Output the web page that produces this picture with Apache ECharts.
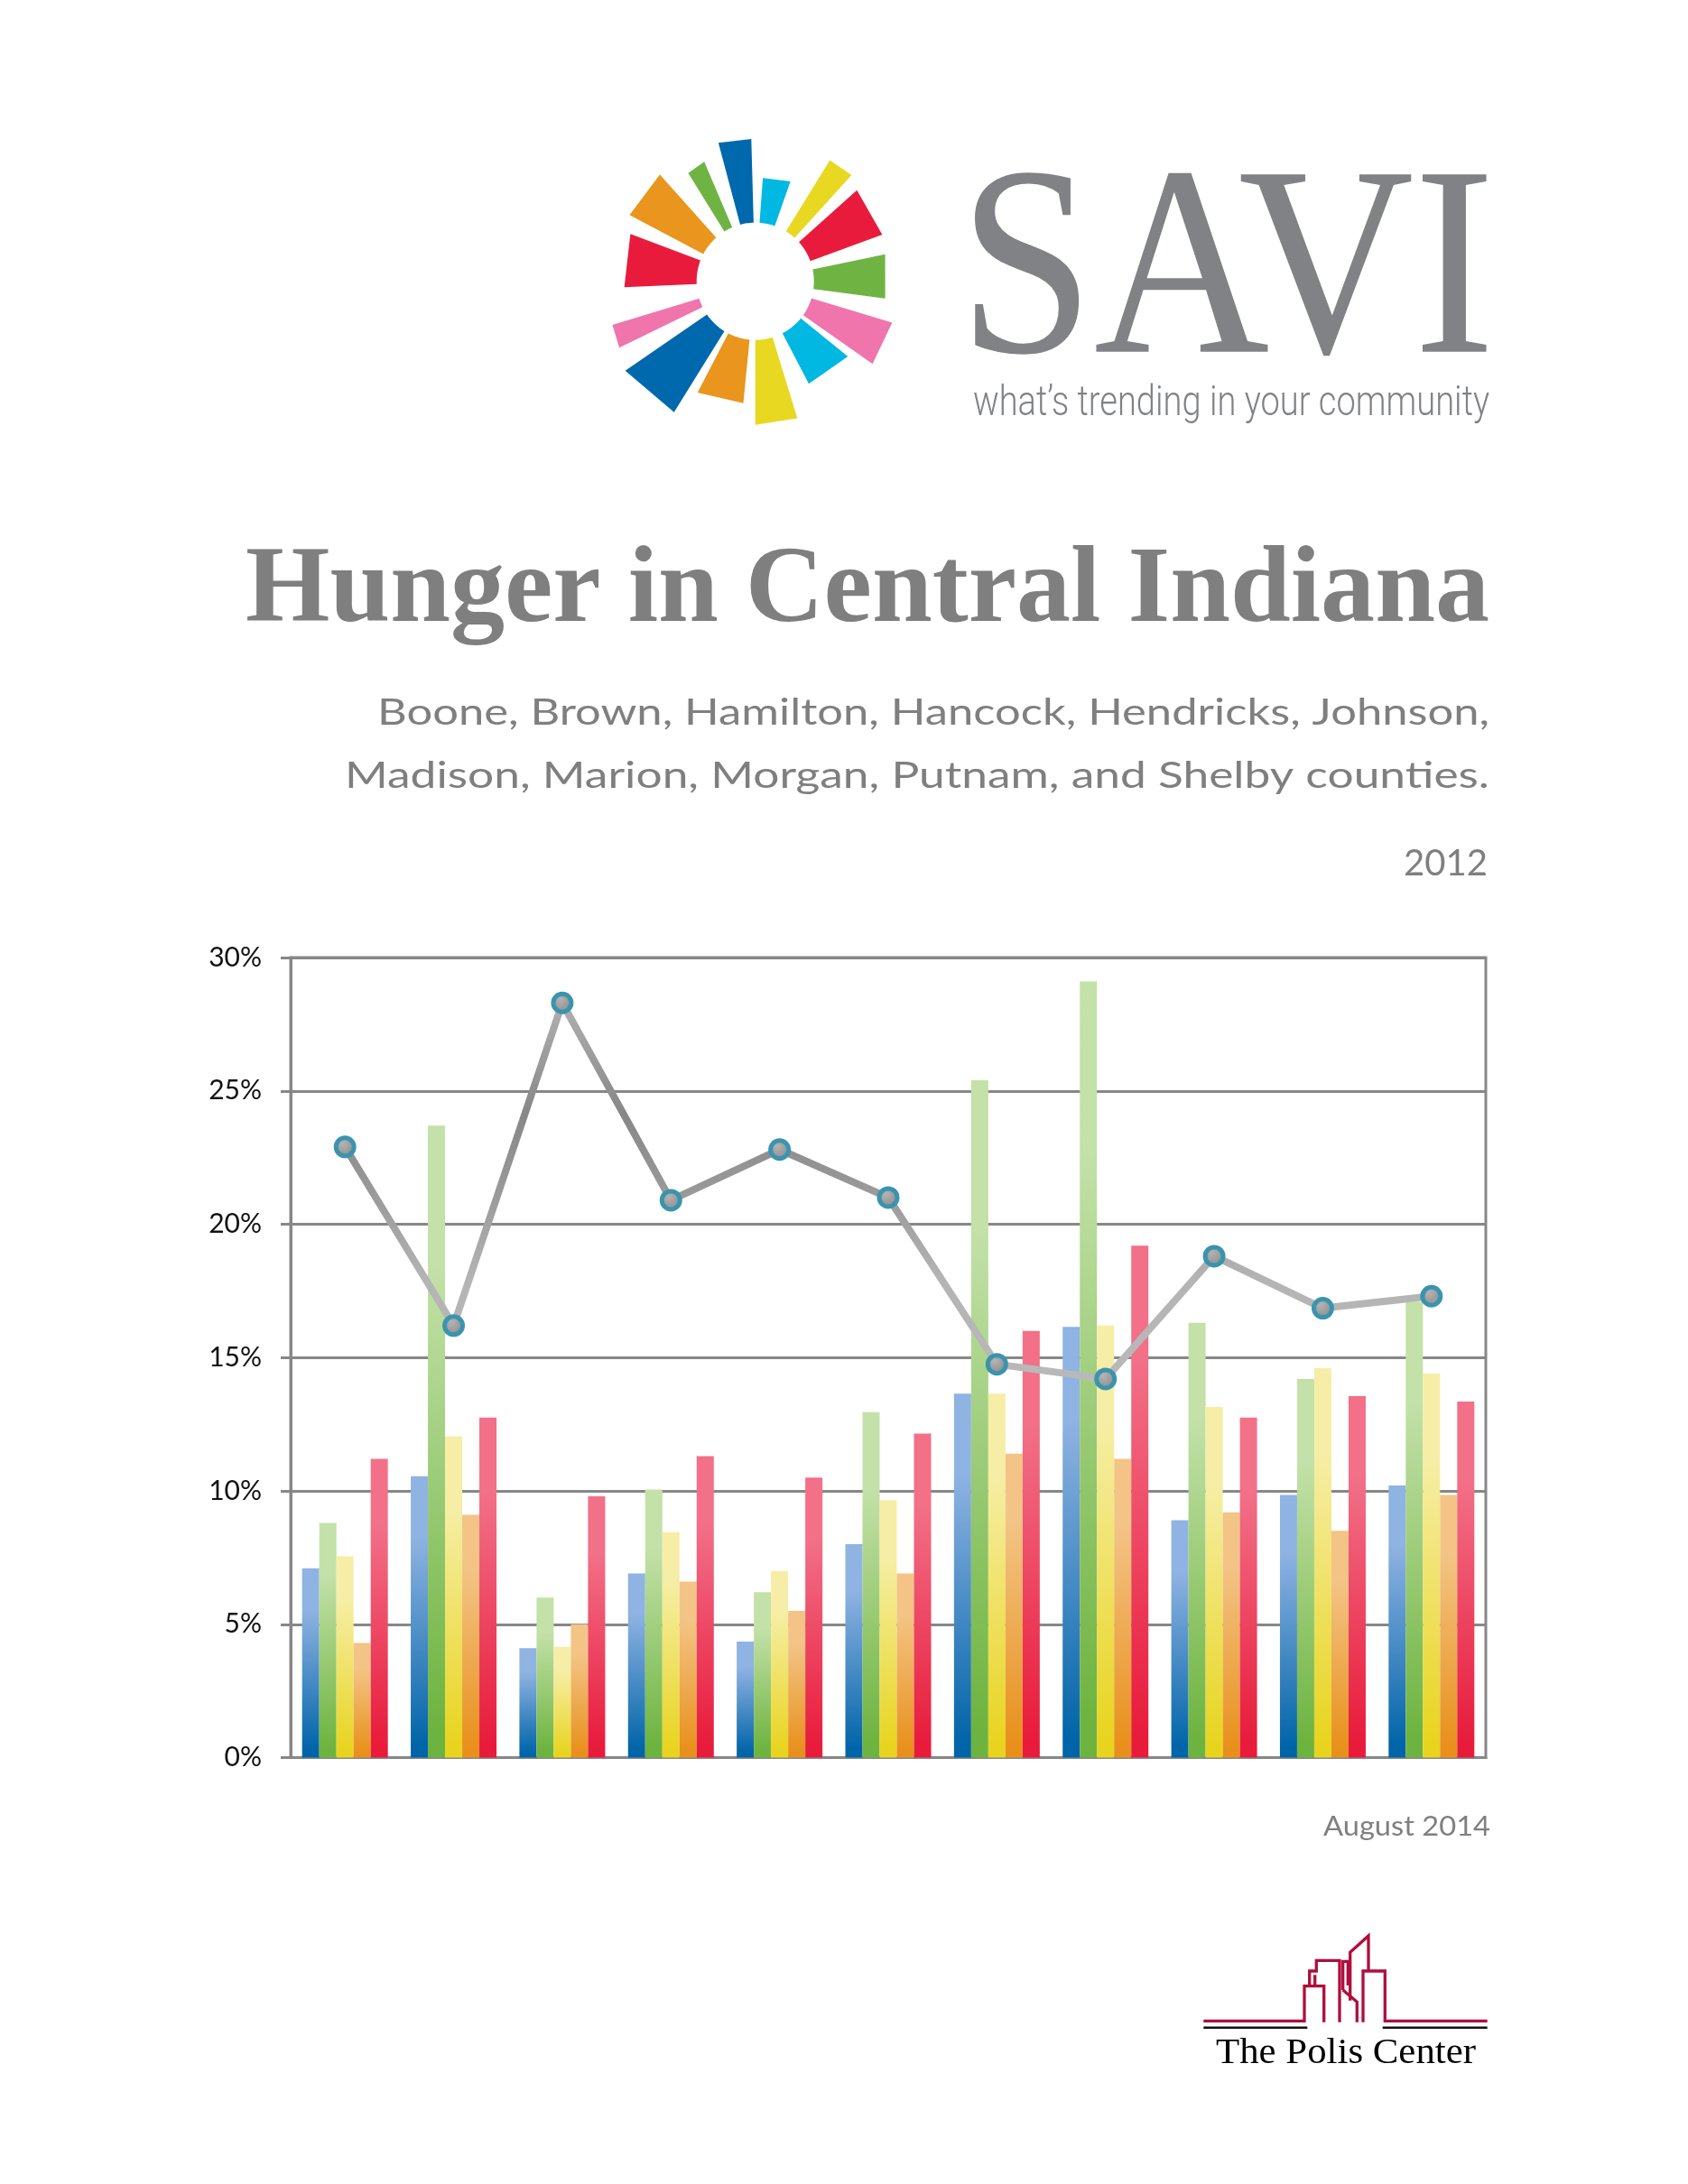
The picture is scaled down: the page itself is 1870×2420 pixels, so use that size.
<!DOCTYPE html>
<html>
<head>
<meta charset="utf-8">
<script src="https://cdn.jsdelivr.net/npm/echarts@6.0.0/dist/echarts.min.js"></script>
<style>
html,body{margin:0;padding:0;background:#fff;}
#chart{width:1870px;height:2420px;}
</style>
</head>
<body>
<div id="chart"></div>
<script>
// ---------- DATA ----------
const counties = ['Boone','Brown','Hamilton','Hancock','Hendricks','Johnson','Madison','Marion','Morgan','Putnam','Shelby'];
const yTicks = [0, 5, 10, 15, 20, 25, 30];
const barBlue   = [7.1, 10.55, 4.1, 6.9, 4.35, 8.0, 13.65, 16.15, 8.9, 9.85, 10.2];
const barGreen  = [8.8, 23.7, 6.0, 10.05, 6.2, 12.95, 25.4, 29.1, 16.3, 14.2, 17.1];
const barYellow = [7.55, 12.05, 4.15, 8.45, 7.0, 9.65, 13.65, 16.2, 13.15, 14.6, 14.4];
const barOrange = [4.3, 9.1, 5.0, 6.6, 5.5, 6.9, 11.4, 11.2, 9.2, 8.5, 9.85];
const barRed    = [11.2, 12.75, 9.8, 11.3, 10.5, 12.15, 16.0, 19.2, 12.75, 13.55, 13.35];
const lineValues = [22.9, 16.2, 28.3, 20.9, 22.8, 21.0, 14.75, 14.2, 18.8, 16.85, 17.3];

const titleText = 'Hunger in Central Indiana';
const subLine1 = 'Boone, Brown, Hamilton, Hancock, Hendricks, Johnson,';
const subLine2 = 'Madison, Marion, Morgan, Putnam, and Shelby counties.';
const yearText = '2012';
const dateText = 'August 2014';

// ---------- STYLE ----------
const grad = (light, dark) => new echarts.graphic.LinearGradient(0, 0, 0, 1, [
  {offset: 0, color: light}, {offset: 0.22, color: light}, {offset: 0.96, color: dark}, {offset: 1, color: dark}
]);
const barStyles = [
  ['#8fb3e2', '#0064a8'],
  ['#c3e1a8', '#6db33f'],
  ['#f6eea6', '#e8d41f'],
  ['#f3c486', '#e8901b'],
  ['#f27088', '#e81b3b']
];
const barSeriesData = [barBlue, barGreen, barYellow, barOrange, barRed];
const barNames = ['Series 1', 'Series 2', 'Series 3', 'Series 4', 'Series 5'];

const mctx = document.createElement('canvas').getContext('2d');
function textEl(text, font, color, xRight, yMid, targetW) {
  mctx.font = font;
  const w = mctx.measureText(text).width;
  const sx = targetW / w;
  return {
    type: 'text', x: xRight, y: yMid, scaleX: sx, originX: 0, originY: 0, silent: true,
    style: {text: text, font: font, fill: color, align: 'right', verticalAlign: 'middle',
            textAlign: 'right', textVerticalAlign: 'middle'}
  };
}

// SAVI ring logo geometry (decoration)
const logoC = [836.7, 311.7], logoInner = 65;
const C = {blue:'#0068ad', cyan:'#00b8e1', yellow:'#e8d822', red:'#e91b3c', green:'#6fb443', pink:'#f075ad', orange:'#e9951e'};
const wedges = [
  [-104.9, -91.6, 158.7, 157.7, C.blue],
  [-85.8, -70.6, 114.7, 117.3, C.cyan],
  [-58.4, -47.8, 157.7, 158.8, C.yellow],
  [-41.9, -20.2, 151.3, 149.9, C.red],
  [-11.8, 7.5, 147, 145.2, C.green],
  [16.8, 35.2, 158.4, 159, C.pink],
  [39.1, 62.4, 132.2, 128, C.cyan],
  [72.9, 90, 158.7, 159, C.yellow],
  [95.6, 117.4, 135.7, 139, C.orange],
  [121.8, 145.5, 170.7, 174.8, C.blue],
  [154, 163, 167.6, 165.5, C.pink],
  [177.4, 200.8, 145.2, 148, C.red],
  [207.8, 228.2, 157.4, 158.6, C.orange],
  [238.2, 246.9, 141, 144, C.green]
];
const graphics = [];
wedges.forEach(wd => {
  const [a0, a1, r0, r1, col] = wd;
  const rad = d => d * Math.PI / 180;
  const pts = [
    [logoC[0] + r0 * Math.cos(rad(a0)), logoC[1] + r0 * Math.sin(rad(a0))],
    [logoC[0] + r1 * Math.cos(rad(a1)), logoC[1] + r1 * Math.sin(rad(a1))]
  ];
  for (let k = 0; k <= 10; k++) {
    const a = a1 + (a0 - a1) * k / 10;
    pts.push([logoC[0] + logoInner * Math.cos(rad(a)), logoC[1] + logoInner * Math.sin(rad(a))]);
  }
  graphics.push({type: 'polygon', silent: true, shape: {points: pts}, style: {fill: col}});
});

// Polis Center logo (decoration)
const polisRed = [
  [[1333.3,2239.3],[1445,2239.3],[1445,2200.7],[1466.7,2200.7],[1466.7,2240.7]],
  [[1450.7,2200.7],[1450.7,2184],[1458.3,2184],[1458.3,2172.3],[1484,2172.3],[1484,2240.7]],
  [[1456.7,2188.3],[1456.7,2200.7]],
  [[1487.7,2205],[1487.7,2173.3],[1493.3,2173.3],[1493.3,2200]],
  [[1487.7,2205],[1503.3,2218.3],[1503.3,2240.7]],
  [[1495.7,2216.7],[1495.7,2163.3],[1516,2145],[1516,2184]],
  [[1510,2240.7],[1510,2184],[1534.3,2184],[1534.3,2239.3],[1647.7,2239.3]]
];
polisRed.forEach(p => graphics.push({type:'polyline', silent:true, shape:{points:p},
  style:{stroke:'#ae0f3c', lineWidth:3.3, fill:null, lineJoin:'miter'}}));
[[[1333.3,2246.7],[1448.3,2246.7]], [[1531.7,2246.7],[1647.7,2246.7]]].forEach(p =>
  graphics.push({type:'polyline', silent:true, shape:{points:p}, style:{stroke:'#111', lineWidth:2.6, fill:null}}));

// Texts
graphics.push(textEl('SAVI', '300px "Liberation Serif"', '#808285', 1656, 311, 594));
graphics.push(textEl('what\u2019s trending in your community', '300 47px Roboto', '#808285', 1650, 448, 572));
graphics.push(textEl(titleText, 'bold 120px "Liberation Serif"', '#7f7f7f', 1650, 657, 1378));
graphics.push(textEl(subLine1, '40px Lato', '#7f7f7f', 1650, 790, 1232));
graphics.push(textEl(subLine2, '40px Lato', '#7f7f7f', 1650, 860, 1268));
graphics.push(textEl(yearText, '40px Lato', '#7f7f7f', 1648, 957, 93));
graphics.push(textEl(dateText, '31px Lato', '#7f7f7f', 1651, 2024, 185));
graphics.push(textEl('The Polis Center', '41px "Liberation Serif"', '#000', 1635, 2275, 288));

const axisGray = '#878787';
const series = barSeriesData.map((d, i) => ({
  name: barNames[i], type: 'bar', data: d, barWidth: 19, barGap: '0%',
  itemStyle: {color: grad(barStyles[i][0], barStyles[i][1])}, z: 2
}));
series.push({
  name: 'Line', type: 'line', data: lineValues, z: 5,
  symbol: 'circle', symbolSize: 20, showAllSymbol: true,
  lineStyle: {width: 8, color: new echarts.graphic.LinearGradient(0, 0, 0, 1, [
    {offset: 0, color: '#b2b2b2'}, {offset: 0.3, color: '#878787'}, {offset: 0.52, color: '#9b9b9b'},
    {offset: 0.73, color: '#b4b4b4'}, {offset: 1, color: '#b9b9b9'}])},
  itemStyle: {color: new echarts.graphic.RadialGradient(0.4, 0.35, 0.75, [
    {offset: 0, color: '#b4b4b4'}, {offset: 1, color: '#848484'}]), borderColor: '#3b94ae', borderWidth: 5},
  emphasis: {disabled: true}
});

const chart = echarts.init(document.getElementById('chart'), null, {renderer: 'canvas'});
chart.setOption({
  animation: false,
  backgroundColor: '#ffffff',
  grid: {left: 322, right: 224, top: 1061, bottom: 472.5, show: true, borderColor: axisGray, borderWidth: 3, containLabel: false},
  xAxis: {
    type: 'category', data: counties,
    axisLine: {show: true, lineStyle: {color: axisGray, width: 3}},
    axisTick: {show: false}, axisLabel: {show: false}, splitLine: {show: false}
  },
  yAxis: {
    type: 'value', min: yTicks[0], max: yTicks[yTicks.length - 1], interval: yTicks[1] - yTicks[0],
    axisLine: {show: true, lineStyle: {color: axisGray, width: 3}},
    axisTick: {show: true, length: 11, lineStyle: {color: axisGray, width: 3}},
    splitLine: {show: true, lineStyle: {color: axisGray, width: 3}},
    axisLabel: {formatter: '{value}%', margin: 32, color: '#111', fontFamily: 'Lato', fontSize: 30}
  },
  series: series,
  graphic: graphics
});
</script>
</body>
</html>
